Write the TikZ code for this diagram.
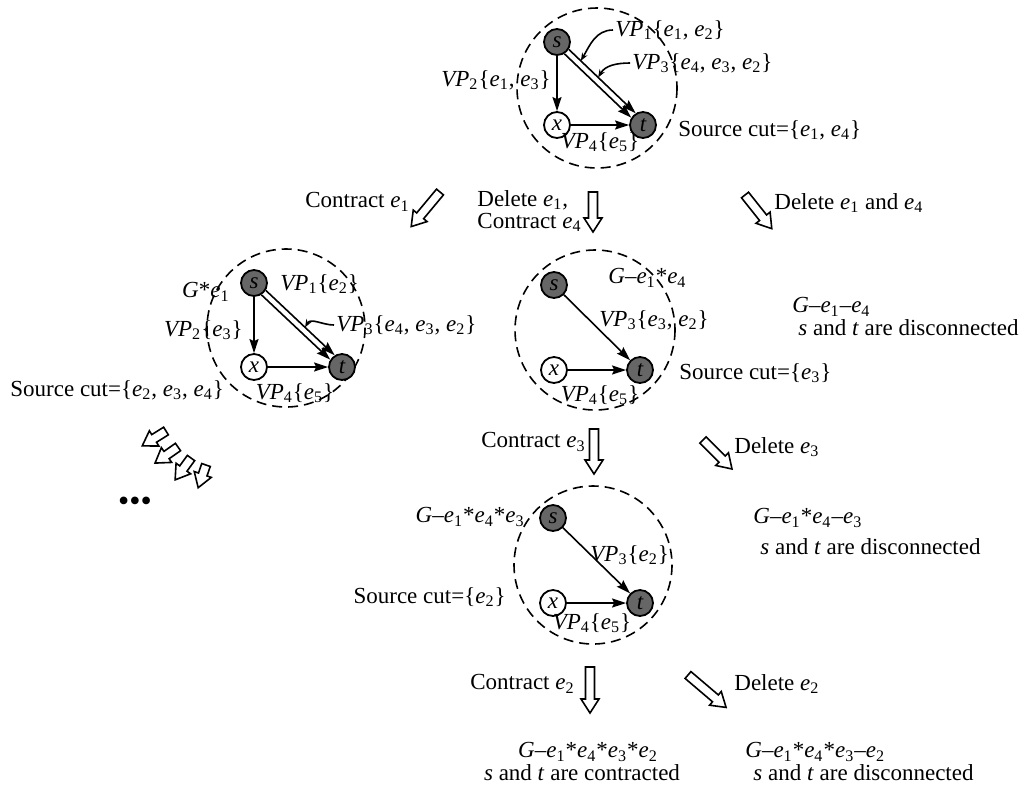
\documentclass[tikz,border=0pt]{standalone}
\usepackage{fontspec}
\setmainfont{Liberation Serif}
\usetikzlibrary{arrows.meta,calc}
\newcommand\ee[1]{\textit{e}\textsubscript{#1}}
\newcommand\VPx[1]{\textit{VP}\textsubscript{#1}}
\tikzset{
  txt/.style={inner sep=1pt, font=\fontsize{11.5}{13}\selectfont},
  dk/.style={circle, draw, line width=0.9pt, fill=black!60, minimum size=13pt, inner sep=0pt, font=\fontsize{11.5}{13}\selectfont\itshape},
  wt/.style={circle, draw, line width=0.9pt, fill=white, minimum size=13pt, inner sep=0pt, font=\fontsize{11.5}{13}\selectfont\itshape},
  arr/.style={line width=0.8pt, -{Stealth[length=7pt,width=4.5pt,inset=1pt]}},
  ptr/.style={line width=0.8pt, -{Stealth[length=4pt,width=3pt]}},
  bound/.style={draw, dash pattern=on 5pt off 3pt, line width=0.8pt},
  pics/harrow/.style={code={
    \draw[line width=0.8pt, line join=miter] (0,-4.5) -- ({#1-14},-4.5) -- ({#1-14},-9) -- (#1,0) -- ({#1-14},9) -- ({#1-14},4.5) -- (0,4.5) -- cycle;}}
}
\begin{document}
\begin{tikzpicture}[x=0.5pt,y=-0.5pt]
\useasboundingbox (0,0) rectangle (1031,794);

% ---------- Graph 1 (top) ----------
\draw[bound] (597,88) circle (80);
\node[dk] (s1) at (557,42) {s};
\node[wt] (x1) at (557,125) {x};
\node[dk] (t1) at (643,125) {t};
\draw[arr] (s1) -- (x1);
\draw[arr] (x1) -- (t1);
\draw[arr] (s1.-32) -- (t1.122);
\draw[arr] (s1.-58) -- (t1.148);
\coordinate (q11) at ($(s1.-32)!0.18!(t1.122)$);
\coordinate (q13) at ($(s1.-32)!0.44!(t1.122)$);
\node[txt, anchor=west] (vp11) at (613,30) {\VPx{1}\{\ee{1}, \ee{2}\}};
\node[txt, anchor=west] (vp13) at (630,63) {\VPx{3}\{\ee{4}, \ee{3}, \ee{2}\}};
\node[txt, anchor=east] (vp12) at (553,80) {\VPx{2}\{\ee{1}, \ee{3}\}};
\node[txt] (vp14) at (600,142) {\VPx{4}\{\ee{5}\}};
\node[txt, anchor=west] (sc1) at (676,130) {Source cut=\{\ee{1}, \ee{4}\}};
\draw[ptr] (vp11.west) to[out=180,in=60] (q11);
\draw[ptr] (vp13.west) to[out=180,in=60] (q13);

% ---------- first row of arrows ----------
\node[txt, anchor=east] (l1) at (412,202) {Contract \ee{1}};
\pic[rotate=-129.8] at (440,192) {harrow=45};
\node[txt, anchor=west, align=left, font=\fontsize{11.5}{11}\selectfont] (l2) at (475,211) {Delete \ee{1},\\Contract \ee{4}};
\pic[rotate=-90] at (593,192) {harrow=40};
\pic[rotate=-51.5] at (745,195) {harrow=43};
\node[txt, anchor=west] (l3) at (772,203) {Delete \ee{1} and \ee{4}};

% ---------- Graph 2 (left) ----------
\draw[bound] (286,328) circle (79);
\node[dk] (s2) at (254,283) {s};
\node[wt] (x2) at (254,367) {x};
\node[dk] (t2) at (342,367) {t};
\draw[arr] (s2) -- (x2);
\draw[arr] (x2) -- (t2);
\draw[arr] (s2.-32) -- (t2.122);
\draw[arr] (s2.-58) -- (t2.148);
\coordinate (q23) at ($(s2.-32)!0.57!(t2.122)$);
\node[txt, anchor=east] (g2) at (232,292) {\textit{G}*\ee{1}};
\node[txt, anchor=west] (vp21) at (278,284) {\VPx{1}\{\ee{2}\}};
\node[txt, anchor=east] (vp22) at (245,330) {\VPx{2}\{\ee{3}\}};
\node[txt, anchor=west] (vp23) at (334,325) {\VPx{3}\{\ee{4}, \ee{3}, \ee{2}\}};
\node[txt] (vp24) at (295,393) {\VPx{4}\{\ee{5}\}};
\node[txt, anchor=west] (sc2) at (8,390) {Source cut=\{\ee{2}, \ee{3}, \ee{4}\}};
\draw[ptr] (vp23.west) to[out=180,in=60] (q23);

% small arrows and dots
\pic[rotate=-148] at (166,431) {harrow=28};
\pic[rotate=-145] at (178,447) {harrow=28};
\pic[rotate=-126] at (191,458) {harrow=27};
\pic[rotate=-109] at (206,465) {harrow=24};
\node[inner sep=0pt, font=\fontsize{16}{16}\selectfont] (dots) at (135,504) {\textbullet\textbullet\textbullet};

% ---------- Graph 3 (middle) ----------
\draw[bound] (595,330) circle (80);
\node[dk] (s3) at (554,285) {s};
\node[wt] (x3) at (554,370) {x};
\node[dk] (t3) at (640,370) {t};
\draw[arr] (s3) -- (t3);
\draw[arr] (x3) -- (t3);
\node[txt, anchor=west] (g3) at (606,278) {\textit{G}–\ee{1}*\ee{4}};
\node[txt, anchor=west] (vp33) at (597,320) {\VPx{3}\{\ee{3}, \ee{2}\}};
\node[txt] (vp34) at (600,395) {\VPx{4}\{\ee{5}\}};
\node[txt, anchor=west] (sc3) at (677,373) {Source cut=\{\ee{3}\}};

\node[txt, anchor=west] (r1a) at (790,307) {\textit{G}–\ee{1}–\ee{4}};
\node[txt, anchor=west] (r1b) at (796,328) {\textit{s} and \textit{t} are disconnected};

% ---------- second row of arrows ----------
\node[txt, anchor=east] (l4) at (588,442) {Contract \ee{3}};
\pic[rotate=-90] at (594,429) {harrow=45};
\pic[rotate=-45] at (703,440) {harrow=41};
\node[txt, anchor=west] (l5) at (732,447) {Delete \ee{3}};

\node[txt, anchor=west] (r2a) at (751,518) {\textit{G}–\ee{1}*\ee{4}–\ee{3}};
\node[txt, anchor=west] (r2b) at (758,547) {\textit{s} and \textit{t} are disconnected};

% ---------- Graph 4 (bottom) ----------
\draw[bound] (593,565) circle (79);
\node[dk] (s4) at (553,518) {s};
\node[wt] (x4) at (553,603) {x};
\node[dk] (t4) at (640,603) {t};
\draw[arr] (s4) -- (t4);
\draw[arr] (x4) -- (t4);
\node[txt, anchor=east] (g4) at (527,517) {\textit{G}–\ee{1}*\ee{4}*\ee{3}};
\node[txt, anchor=west] (vp43) at (588,555) {\VPx{3}\{\ee{2}\}};
\node[txt, anchor=east] (sc4) at (508,597) {Source cut=\{\ee{2}\}};
\node[txt] (vp44) at (592,623) {\VPx{4}\{\ee{5}\}};

% ---------- third row of arrows ----------
\node[txt, anchor=east] (l6) at (577,684) {Contract \ee{2}};
\pic[rotate=-90] at (590,667) {harrow=46};
\pic[rotate=-40.4] at (688,675) {harrow=50};
\node[txt, anchor=west] (l7) at (732,684) {Delete \ee{2}};

\node[txt] (b1a) at (588,752) {\textit{G}–\ee{1}*\ee{4}*\ee{3}*\ee{2}};
\node[txt] (b1b) at (582,773) {\textit{s} and \textit{t} are contracted};
\node[txt, anchor=west] (b2a) at (743,752) {\textit{G}–\ee{1}*\ee{4}*\ee{3}–\ee{2}};
\node[txt, anchor=west] (b2b) at (751,773) {\textit{s} and \textit{t} are disconnected};
\end{tikzpicture}
\end{document}
